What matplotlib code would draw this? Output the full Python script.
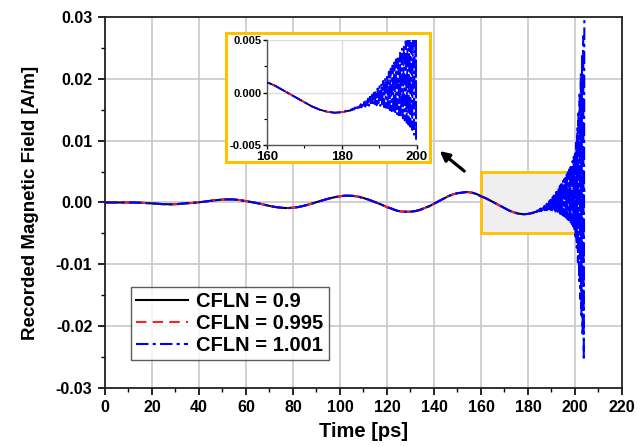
import numpy as np
import matplotlib
matplotlib.use("Agg")
import matplotlib.pyplot as plt
from matplotlib.patches import Rectangle
from matplotlib.ticker import MultipleLocator, FormatStrFormatter

plt.rcParams['font.family'] = ['Liberation Sans', 'DejaVu Sans']
plt.rcParams['font.weight'] = 'bold'
plt.rcParams['axes.unicode_minus'] = False

# ---- data ----
t_smooth = np.arange(0, 206, 2)  # ps, 2 ps sampling
h_smooth = [
    0.0, 0.0, 0.0, 0.0, 0.0, 0.0, 0.0, -0.00002, -0.00005, -0.0001,
    -0.00015, -0.0002, -0.00025, -0.00028, -0.0003, -0.00028, -0.00022, -0.00015, -0.0001, -0.00004,
    0.00003, 0.00012, 0.00022, 0.00032, 0.0004, 0.00047, 0.0005, 0.0005, 0.00045, 0.00035,
    0.00022, 0.0001, -0.00005, -0.0002, -0.00038, -0.00055, -0.0007, -0.0008, -0.00088, -0.0009,
    -0.00085, -0.00075, -0.0006, -0.0004, -0.00018, 0.00005, 0.00028, 0.0005, 0.0007, 0.00088,
    0.001, 0.0011, 0.0011, 0.00105, 0.00092, 0.00072, 0.00048, 0.0002, -0.0001, -0.0004,
    -0.00075, -0.001, -0.0013, -0.00145, -0.0015, -0.00148, -0.0014, -0.0012, -0.0009, -0.0006,
    -0.0002, 0.0002, 0.0006, 0.001, 0.0013, 0.0015, 0.0016, 0.0017, 0.0016, 0.0014,
    0.001, 0.0007, 0.0003, -0.0001, -0.0005, -0.0009, -0.0013, -0.0016, -0.0018, -0.0019,
    -0.00185, -0.0017, -0.0014, -0.0011, -0.0007, -0.0003, 0.0001, 0.0005, 0.0009, 0.0013,
    0.0016, 0.0018, 0.0019,
]

# CFLN = 1.001 : unstable part, 0.25 ps sampling from 182 ps
t_unstable = np.arange(182.0, 204.01, 0.25)
h_unstable = [
    -0.00165, -0.00172, -0.00157, -0.00166, -0.00149, -0.0016, -0.0014, -0.00155,
    -0.00129, -0.00148, -0.00118, -0.00143, -0.00108, -0.0014, -0.00096, -0.00136,
    -0.00085, -0.00133, -0.0007, -0.00128, -0.00054, -0.00125, -0.00037, -0.00122,
    -0.0002, -0.0012, 0.0, -0.0012, 0.0002, -0.0012, 0.0004, -0.00121,
    0.00062, -0.00125, 0.00087, -0.0013, 0.00113, -0.00137, 0.00141, -0.00145,
    0.0017, -0.00155, 0.002, -0.00165, 0.0023, -0.00175, 0.0026, -0.00185,
    0.0029, -0.00195, 0.0032, -0.00205, 0.0035, -0.00215, 0.0038, -0.00225,
    0.0042, -0.00245, 0.0045, -0.00265, 0.0049, -0.00285, 0.0053, -0.00305,
    0.0058, -0.00325, 0.0062, -0.00355, 0.0067, -0.004, 0.0074, -0.0046,
    0.0082, -0.0055, 0.0097, -0.0073, 0.012, -0.0097, 0.0148, -0.0127,
    0.0179, -0.0156, 0.0209, -0.0186, 0.0239, -0.0216, 0.0269, -0.0255,
    0.031,
]

labels = ['CFLN = 0.9', 'CFLN = 0.995', 'CFLN = 1.001']
xticks = [0, 20, 40, 60, 80, 100, 120, 140, 160, 180, 200, 220]
yticks = [-0.03, -0.02, -0.01, 0.0, 0.01, 0.02, 0.03]

t_blue = np.concatenate([t_smooth[t_smooth < 182], t_unstable])
h_blue = np.concatenate([np.array(h_smooth)[t_smooth < 182], h_unstable])

ORANGE = '#FFC000'

fig = plt.figure(figsize=(6.37, 4.47), dpi=100)
ax = fig.add_axes([0.1648, 0.132, 0.8116, 0.830])


def draw_curves(a, lw):
    a.plot(t_smooth, h_smooth, color='black', lw=lw, ls='-', label=labels[0], zorder=3)
    a.plot(t_smooth, h_smooth, color='#FF2020', lw=lw, ls=(0, (5, 3)), label=labels[1], zorder=4)
    a.plot(t_blue, h_blue, color='#0000FF', lw=lw, ls=(0, (6, 2, 1.5, 2)), label=labels[2], zorder=5)


draw_curves(ax, 1.5)
ax.add_patch(Rectangle((160, -0.005), 40, 0.01, facecolor='#EFEFEF',
                       edgecolor=ORANGE, lw=2, zorder=2))

ax.set_xlim(0, 220)
ax.set_ylim(-0.03, 0.03)
ax.set_xticks(xticks)
ax.set_yticks(yticks)
ax.xaxis.set_minor_locator(MultipleLocator(10))
ax.yaxis.set_minor_locator(MultipleLocator(0.005))
ax.yaxis.set_major_formatter(FormatStrFormatter('%.2f'))
ax.grid(True, which='major', color='#C8C8C8', lw=1.2, zorder=0)
ax.set_axisbelow(True)
ax.tick_params(which='major', direction='out', length=5, width=1.2, labelsize=11.5, pad=4,
               top=False, right=False)
ax.tick_params(which='minor', direction='out', length=3, width=1.0, top=False, right=False)
for s in ax.spines.values():
    s.set_linewidth(1.3)
    s.set_color('#222222')
for lab in ax.get_xticklabels() + ax.get_yticklabels():
    lab.set_fontweight('bold')
ax.set_xlabel('Time [ps]', fontsize=14.5, fontweight='bold', labelpad=5)
ax.set_ylabel('Recorded Magnetic Field [A/m]', fontsize=13.5, fontweight='bold', labelpad=12)

leg = ax.legend(loc='lower left', bbox_to_anchor=(0.05, 0.075), borderaxespad=0,
                frameon=True, fancybox=False, handlelength=2.6,
                handletextpad=0.4, labelspacing=0.15, borderpad=0.25,
                prop={'weight': 'bold', 'size': 14.5})
leg.get_frame().set_edgecolor('#333333')
leg.get_frame().set_linewidth(1.0)

ax.annotate('', xy=(141.5, 0.0086), xytext=(153.8, 0.0048), xycoords='data',
            arrowprops=dict(arrowstyle='-|>', color='black', lw=2.3, mutation_scale=14),
            zorder=6)

# inset frame
fig.patches.append(Rectangle((0.3548, 0.6376), 0.320, 0.2886, transform=fig.transFigure,
                             facecolor='white', edgecolor=ORANGE, lw=2.2, zorder=10))

axi = fig.add_axes([0.419, 0.675, 0.2355, 0.235], zorder=11)
draw_curves(axi, 1.3)
axi.set_xlim(160, 200)
axi.set_ylim(-0.005, 0.005)
axi.set_xticks([160, 180, 200])
axi.set_yticks([-0.005, 0.0, 0.005])
axi.xaxis.set_minor_locator(MultipleLocator(10))
axi.yaxis.set_minor_locator(MultipleLocator(0.0025))
axi.yaxis.set_major_formatter(FormatStrFormatter('%.3f'))
axi.grid(True, which='major', color='#DDDDDD', lw=1.0)
axi.set_axisbelow(True)
axi.tick_params(which='major', direction='out', length=3, width=1, pad=1)
axi.tick_params(axis='x', labelsize=9.5)
axi.tick_params(axis='y', labelsize=8)
axi.tick_params(which='minor', direction='out', length=2, width=0.8)
axi.spines['top'].set_visible(False)
axi.spines['right'].set_visible(False)
for s in ['left', 'bottom']:
    axi.spines[s].set_linewidth(1.0)
    axi.spines[s].set_color('#555555')
for lab in axi.get_xticklabels() + axi.get_yticklabels():
    lab.set_fontweight('bold')

fig.savefig('out.png', dpi=100)
